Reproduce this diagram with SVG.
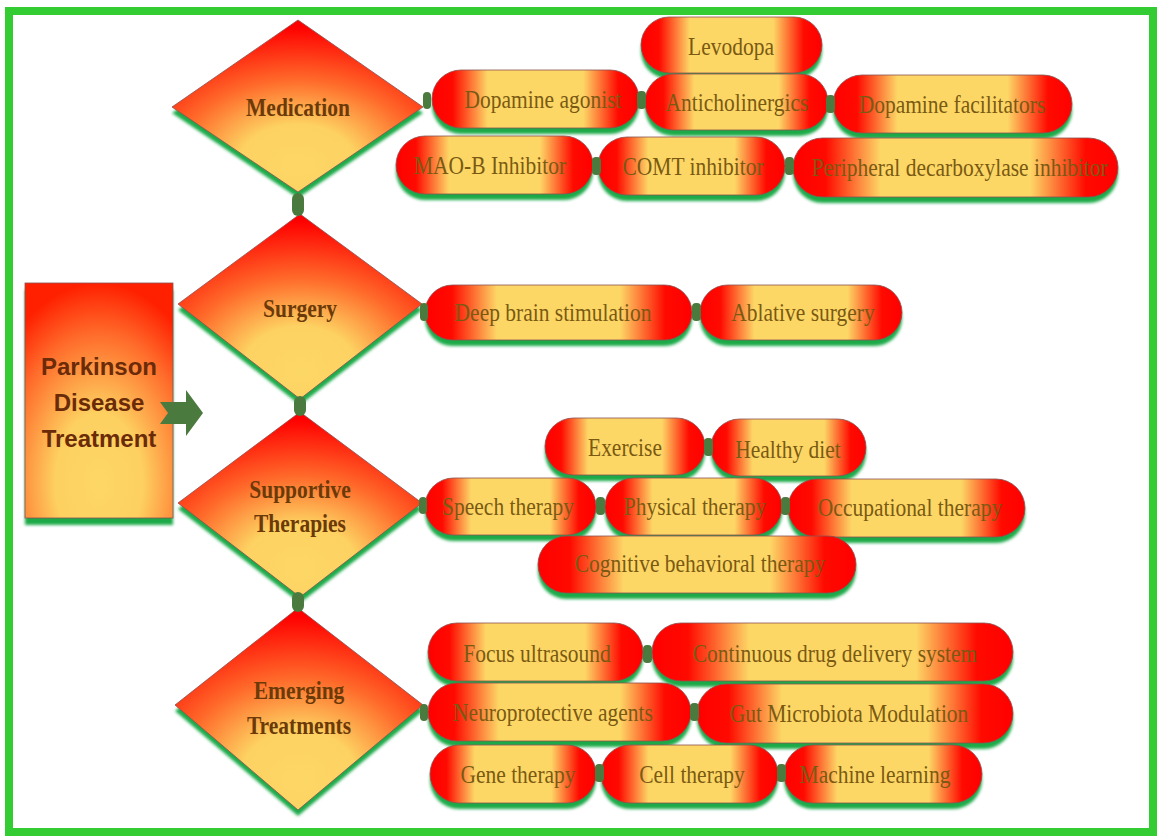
<svg xmlns="http://www.w3.org/2000/svg" width="1159" height="837" viewBox="0 0 1159 837">
<defs>
<linearGradient id="gPill" x1="0" y1="0" x2="1" y2="0">
<stop offset="0" stop-color="#ff0000"/><stop offset="0.1" stop-color="#ff0a00"/><stop offset="0.27" stop-color="#fdd766"/><stop offset="0.73" stop-color="#fdd766"/><stop offset="0.9" stop-color="#ff0a00"/><stop offset="1" stop-color="#ff0000"/>
</linearGradient>
<radialGradient id="gDia" cx="0.5" cy="0.82" r="0.78" fx="0.5" fy="0.85">
<stop offset="0" stop-color="#fdd766"/><stop offset="0.3" stop-color="#fdd262"/><stop offset="0.62" stop-color="#ff6a2a"/><stop offset="1" stop-color="#ff0000"/>
</radialGradient>
<radialGradient id="gBox" cx="0.5" cy="0.85" r="0.85">
<stop offset="0" stop-color="#fdd766"/><stop offset="0.35" stop-color="#fdd060"/><stop offset="0.75" stop-color="#ff6a2a"/><stop offset="1" stop-color="#ff2000"/>
</radialGradient>
<filter id="blur" x="-10%" y="-20%" width="120%" height="140%"><feGaussianBlur stdDeviation="1.6"/></filter>
<style>
.sh{fill:#1daa4a;filter:url(#blur)}
.pill{fill:url(#gPill);stroke:#8a5050;stroke-width:0.8}
.dia{fill:url(#gDia);stroke:#8a5050;stroke-width:0.8}
.pt{font-family:"Liberation Serif",serif;font-size:25px;fill:#7a5a12;text-anchor:middle;transform-box:fill-box;transform-origin:center;transform:scaleX(0.86)}
.dt{font-family:"Liberation Serif",serif;font-size:25px;font-weight:bold;fill:#6b3a08;text-anchor:middle;transform-box:fill-box;transform-origin:center;transform:scaleX(0.86)}
.bt{font-family:"Liberation Sans",sans-serif;font-size:24px;font-weight:bold;fill:#6b2a08;text-anchor:middle}
.lk{fill:#4a7a3e}
</style>
</defs>
<rect x="0" y="0" width="1159" height="837" fill="#ffffff"/>
<rect x="9" y="11" width="1144" height="821" fill="none" stroke="#33cc33" stroke-width="8"/>

<g id="root">
<rect class="sh" x="25" y="290" width="148" height="235"/>
<rect x="25" y="283" width="148" height="235" fill="url(#gBox)" stroke="#8a5050" stroke-width="0.8"/>
<text class="bt" x="99" y="375">Parkinson</text>
<text class="bt" x="99" y="411">Disease</text>
<text class="bt" x="99" y="447">Treatment</text>
</g>

<g id="medication">
<polygon class="sh" points="298,26 423,113 298,198 172,113"/>
<polygon class="dia" points="298,20 423,107 298,192 172,107"/>
<text class="dt" x="298" y="116">Medication</text>
</g>
<g id="surgery">
<polygon class="sh" points="300,220 422,310 300,405 178,310"/>
<polygon class="dia" points="300,214 422,304 300,399 178,304"/>
<text class="dt" x="300" y="317">Surgery</text>
</g>
<g id="supportive">
<polygon class="sh" points="300,418 422,509 300,603 178,509"/>
<polygon class="dia" points="300,412 422,503 300,597 178,503"/>
<text class="dt" x="300" y="498">Supportive</text>
<text class="dt" x="300" y="532">Therapies</text>
</g>
<g id="emerging">
<polygon class="sh" points="298,614 423,711 298,816 175,711"/>
<polygon class="dia" points="298,608 423,705 298,810 175,705"/>
<text class="dt" x="299" y="699">Emerging</text>
<text class="dt" x="299" y="734">Treatments</text>
</g>

<g id="levodopa"><rect class="sh" x="641" y="23" width="181" height="56" rx="28"/><rect class="pill" x="641" y="17" width="181" height="56" rx="28"/><text class="pt" x="731" y="55">Levodopa</text></g>
<g id="dopamine-agonist"><rect class="sh" x="432" y="76" width="207" height="58" rx="29"/><rect class="pill" x="432" y="70" width="207" height="58" rx="29"/><text class="pt" x="543" y="108">Dopamine agonist</text></g>
<g id="anticholinergics"><rect class="sh" x="645" y="80" width="183" height="56" rx="28"/><rect class="pill" x="645" y="74" width="183" height="56" rx="28"/><text class="pt" x="737" y="111">Anticholinergics</text></g>
<g id="dopamine-facilitators"><rect class="sh" x="833" y="81" width="239" height="58" rx="29"/><rect class="pill" x="833" y="75" width="239" height="58" rx="29"/><text class="pt" x="952" y="113">Dopamine  facilitators</text></g>
<g id="maob"><rect class="sh" x="396" y="142" width="197" height="58" rx="29"/><rect class="pill" x="396" y="136" width="197" height="58" rx="29"/><text class="pt" x="490" y="174">MAO-B Inhibitor</text></g>
<g id="comt"><rect class="sh" x="598" y="143" width="187" height="58" rx="29"/><rect class="pill" x="598" y="137" width="187" height="58" rx="29"/><text class="pt" x="693" y="175">COMT inhibitor</text></g>
<g id="peripheral"><rect class="sh" x="793" y="144" width="325" height="59" rx="29.5"/><rect class="pill" x="793" y="138" width="325" height="59" rx="29.5"/><text class="pt" x="960" y="176">Peripheral decarboxylase inhibitor</text></g>

<g id="dbs"><rect class="sh" x="425" y="291" width="267" height="55" rx="27.5"/><rect class="pill" x="425" y="285" width="267" height="55" rx="27.5"/><text class="pt" x="553" y="321">Deep brain stimulation</text></g>
<g id="ablative"><rect class="sh" x="700" y="291" width="202" height="55" rx="27.5"/><rect class="pill" x="700" y="285" width="202" height="55" rx="27.5"/><text class="pt" x="803" y="321">Ablative surgery</text></g>

<g id="exercise"><rect class="sh" x="545" y="424" width="160" height="57" rx="28.5"/><rect class="pill" x="545" y="418" width="160" height="57" rx="28.5"/><text class="pt" x="625" y="456">Exercise</text></g>
<g id="diet"><rect class="sh" x="711" y="425" width="155" height="57" rx="28.5"/><rect class="pill" x="711" y="419" width="155" height="57" rx="28.5"/><text class="pt" x="788" y="458">Healthy diet</text></g>
<g id="speech"><rect class="sh" x="425" y="484" width="171" height="57" rx="28.5"/><rect class="pill" x="425" y="478" width="171" height="57" rx="28.5"/><text class="pt" x="508" y="515">Speech therapy</text></g>
<g id="physical"><rect class="sh" x="605" y="484" width="177" height="57" rx="28.5"/><rect class="pill" x="605" y="478" width="177" height="57" rx="28.5"/><text class="pt" x="695" y="515">Physical therapy</text></g>
<g id="occupational"><rect class="sh" x="788" y="485" width="237" height="58" rx="29"/><rect class="pill" x="788" y="479" width="237" height="58" rx="29"/><text class="pt" x="910" y="516">Occupational therapy</text></g>
<g id="cbt"><rect class="sh" x="538" y="542" width="318" height="57" rx="28.5"/><rect class="pill" x="538" y="536" width="318" height="57" rx="28.5"/><text class="pt" x="700" y="572">Cognitive behavioral therapy</text></g>

<g id="focus"><rect class="sh" x="428" y="629" width="215" height="58" rx="29"/><rect class="pill" x="428" y="623" width="215" height="58" rx="29"/><text class="pt" x="537" y="662">Focus ultrasound</text></g>
<g id="continuous"><rect class="sh" x="652" y="629" width="361" height="58" rx="29"/><rect class="pill" x="652" y="623" width="361" height="58" rx="29"/><text class="pt" x="835" y="662">Continuous drug delivery system</text></g>
<g id="neuro"><rect class="sh" x="428" y="689" width="263" height="58" rx="29"/><rect class="pill" x="428" y="683" width="263" height="58" rx="29"/><text class="pt" x="553" y="721">Neuroprotective agents</text></g>
<g id="gut"><rect class="sh" x="697" y="690" width="316" height="59" rx="29.5"/><rect class="pill" x="697" y="684" width="316" height="59" rx="29.5"/><text class="pt" x="849" y="722">Gut Microbiota Modulation</text></g>
<g id="gene"><rect class="sh" x="430" y="751" width="166" height="58" rx="29"/><rect class="pill" x="430" y="745" width="166" height="58" rx="29"/><text class="pt" x="518" y="783">Gene therapy</text></g>
<g id="cell"><rect class="sh" x="601" y="751" width="177" height="58" rx="29"/><rect class="pill" x="601" y="745" width="177" height="58" rx="29"/><text class="pt" x="692" y="783">Cell therapy</text></g>
<g id="ml"><rect class="sh" x="784" y="751" width="198" height="58" rx="29"/><rect class="pill" x="784" y="745" width="198" height="58" rx="29"/><text class="pt" x="875" y="783">Machine learning</text></g>

<g id="connectors">
<polygon class="lk" points="160,402 186,402 186,390 203,413 186,436 186,424 160,424 168,413"/>
<rect class="lk" x="292" y="193" width="12" height="23" rx="6"/>
<rect class="lk" x="294" y="396" width="12" height="20" rx="6"/>
<rect class="lk" x="292" y="592" width="12" height="20" rx="6"/>
<rect class="lk" x="423" y="92" width="8" height="17" rx="4"/>
<rect class="lk" x="637" y="91" width="9" height="18" rx="4"/>
<rect class="lk" x="826" y="95" width="9" height="18" rx="4"/>
<rect class="lk" x="592" y="157" width="9" height="18" rx="4"/>
<rect class="lk" x="785" y="157" width="9" height="18" rx="4"/>
<rect class="lk" x="420" y="303" width="8" height="18" rx="4"/>
<rect class="lk" x="692" y="303" width="9" height="18" rx="4"/>
<rect class="lk" x="704" y="438" width="9" height="18" rx="4"/>
<rect class="lk" x="419" y="497" width="8" height="17" rx="4"/>
<rect class="lk" x="596" y="497" width="9" height="18" rx="4"/>
<rect class="lk" x="781" y="497" width="9" height="18" rx="4"/>
<rect class="lk" x="643" y="645" width="9" height="18" rx="4"/>
<rect class="lk" x="420" y="704" width="8" height="17" rx="4"/>
<rect class="lk" x="690" y="703" width="9" height="18" rx="4"/>
<rect class="lk" x="595" y="764" width="9" height="18" rx="4"/>
<rect class="lk" x="777" y="764" width="9" height="18" rx="4"/>
</g>
</svg>
